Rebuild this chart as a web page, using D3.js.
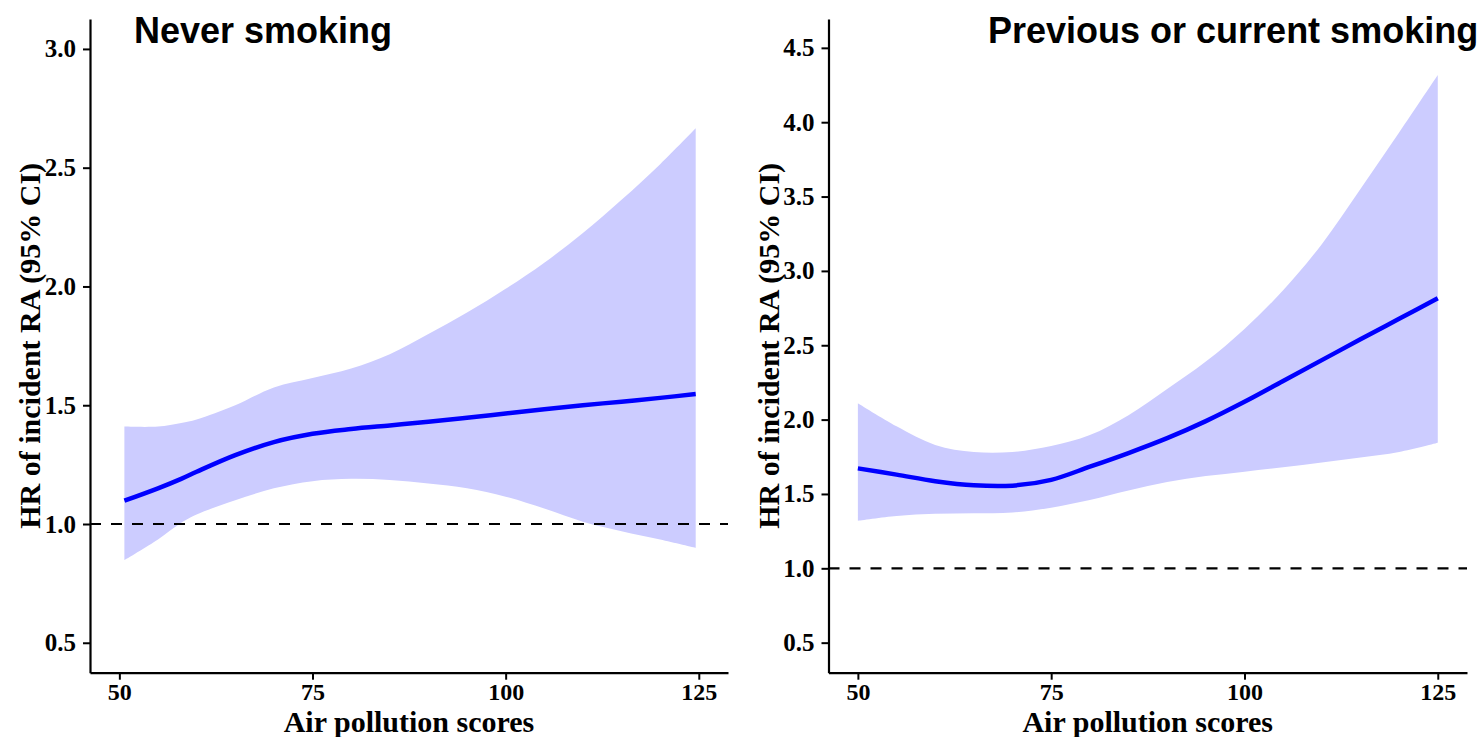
<!DOCTYPE html>
<html>
<head>
<meta charset="utf-8">
<script src="https://cdn.jsdelivr.net/npm/d3@7"></script>
<style>
  html, body { margin: 0; padding: 0; background: #fff; }
  svg { display: block; }
</style>
</head>
<body>
<svg id="chart" width="1480" height="737"></svg>
<script>
// Never smoking: spline estimate and 95% CI
const neverX     = [50.65, 55, 58, 60, 65, 70, 75, 80, 85, 90, 95, 100, 105, 110, 115, 120, 124.6];
const neverHR    = [1.098, 1.15, 1.19, 1.22, 1.29, 1.345, 1.38, 1.40, 1.415, 1.43, 1.447, 1.465, 1.483, 1.50, 1.515, 1.531, 1.547];
const neverLower = [0.848, 0.935, 1.005, 1.04, 1.10, 1.15, 1.18, 1.19, 1.185, 1.17, 1.15, 1.115, 1.065, 1.01, 0.97, 0.935, 0.90];
const neverUpper = [1.41, 1.41, 1.425, 1.44, 1.50, 1.575, 1.615, 1.655, 1.715, 1.80, 1.89, 1.99, 2.10, 2.225, 2.365, 2.515, 2.666];

// Previous or current smoking: spline estimate and 95% CI
const smokeX     = [50, 55, 60, 65, 70, 75, 80, 85, 90, 95, 100, 105, 110, 115, 120, 125];
const smokeHR    = [1.672, 1.63, 1.586, 1.558, 1.556, 1.595, 1.683, 1.775, 1.875, 1.99, 2.12, 2.26, 2.40, 2.54, 2.678, 2.816];
const smokeLower = [1.32, 1.352, 1.367, 1.37, 1.375, 1.408, 1.459, 1.523, 1.58, 1.62, 1.65, 1.68, 1.712, 1.745, 1.783, 1.845];
const smokeUpper = [2.11, 1.955, 1.83, 1.782, 1.782, 1.822, 1.896, 2.03, 2.205, 2.39, 2.61, 2.87, 3.18, 3.55, 3.93, 4.317];

const xTicks      = [50, 75, 100, 125];
const neverYTicks = [0.5, 1.0, 1.5, 2.0, 2.5, 3.0];
const smokeYTicks = [0.5, 1.0, 1.5, 2.0, 2.5, 3.0, 3.5, 4.0, 4.5];

const panels = [
  { title: "Never smoking", titleX: 134, x: neverX, hr: neverHR, lo: neverLower, hi: neverUpper,
    yTicks: neverYTicks, yDomain: [0.374, 3.126], left: 90, right: 728 },
  { title: "Previous or current smoking", titleX: 988, x: smokeX, hr: smokeHR, lo: smokeLower, hi: smokeUpper,
    yTicks: smokeYTicks, yDomain: [0.298, 4.694], left: 828.5, right: 1467 }
];

const svg = d3.select("#chart");
const plotTop = 19, plotBottom = 672.7;
const serif = "'Liberation Serif', 'Times New Roman', serif";
const sans = "'Liberation Sans', Arial, sans-serif";
const smooth = d3.curveCatmullRom.alpha(0.5);

panels.forEach(p => {
  const x = d3.scaleLinear().domain([46.2, 128.78]).range([p.left, p.right]);
  const y = d3.scaleLinear().domain(p.yDomain).range([plotBottom, plotTop]);
  const rows = p.x.map((v, i) => ({ x: v, hr: p.hr[i], lo: p.lo[i], hi: p.hi[i] }));
  const g = svg.append("g");

  // confidence band
  g.append("path")
    .datum(rows)
    .attr("fill", "#ccccff")
    .attr("d", d3.area().curve(smooth)
      .x(d => x(d.x)).y0(d => y(d.lo)).y1(d => y(d.hi)));

  // reference line at HR = 1
  g.append("line")
    .attr("x1", p.left).attr("x2", p.right)
    .attr("y1", y(1)).attr("y2", y(1))
    .attr("stroke", "#000").attr("stroke-width", 2.2)
    .attr("stroke-dasharray", "11,10");

  // hazard ratio curve
  g.append("path")
    .datum(rows)
    .attr("fill", "none")
    .attr("stroke", "#0000ff")
    .attr("stroke-width", 4.5)
    .attr("stroke-linecap", "butt")
    .attr("d", d3.line().curve(smooth).x(d => x(d.x)).y(d => y(d.hr)));

  // axes
  const xAxis = g.append("g")
    .attr("transform", `translate(0,${plotBottom})`)
    .call(d3.axisBottom(x).tickValues(xTicks).tickSize(7).tickSizeOuter(0).tickPadding(4));
  const yAxis = g.append("g")
    .attr("transform", `translate(${p.left},0)`)
    .call(d3.axisLeft(y).tickValues(p.yTicks).tickFormat(d3.format(".1f"))
      .tickSize(7).tickSizeOuter(0).tickPadding(7));

  [xAxis, yAxis].forEach(a => {
    a.select(".domain").attr("stroke", "#000").attr("stroke-width", 2.2);
    a.selectAll(".tick line").attr("stroke", "#000").attr("stroke-width", 2);
    a.selectAll(".tick text")
      .attr("fill", "#000")
      .style("font-family", serif)
      .style("font-weight", "bold")
      .style("font-size", "25px");
  });
  xAxis.selectAll(".tick text").style("font-size", "24px").attr("dy", "0.7em");

  // axis titles
  g.append("text")
    .attr("x", (p.left + p.right) / 2).attr("y", 731.5)
    .attr("text-anchor", "middle")
    .style("font-family", serif).style("font-weight", "bold").style("font-size", "30px")
    .text("Air pollution scores");

  g.append("text")
    .attr("transform", `translate(${p.left - 50},${(plotTop + plotBottom) / 2}) rotate(-90)`)
    .attr("text-anchor", "middle")
    .style("font-family", serif).style("font-weight", "bold").style("font-size", "30px")
    .text("HR of incident RA (95% CI)");

  // panel title
  g.append("text")
    .attr("x", p.titleX).attr("y", 43)
    .style("font-family", sans).style("font-weight", "bold").style("font-size", "36px")
    .text(p.title);
});
</script>
</body>
</html>
